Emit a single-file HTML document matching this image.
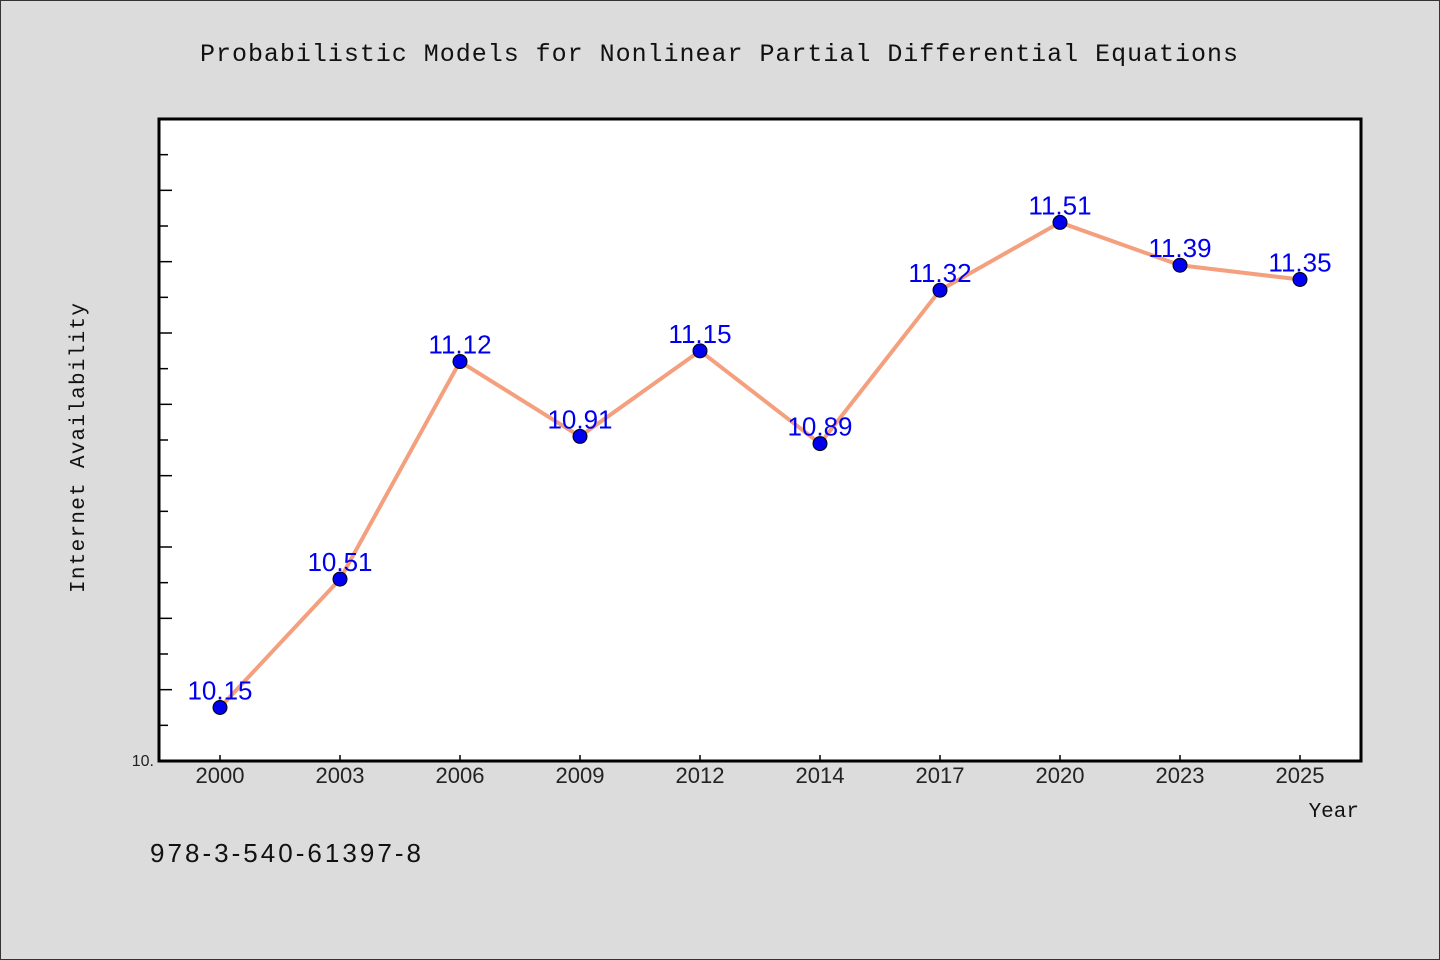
<!DOCTYPE html>
<html><head><meta charset="utf-8"><style>
html,body{margin:0;padding:0;background:#dcdcdc;}
svg{display:block;}
</style></head><body>
<svg width="1440" height="960" xmlns="http://www.w3.org/2000/svg">
<rect x="0.5" y="0.5" width="1439" height="959" fill="#dcdcdc" stroke="#333"/>
<text x="719" y="61" text-anchor="middle" font-family="Liberation Mono, monospace" font-size="25" fill="#111" textLength="1038">Probabilistic Models for Nonlinear Partial Differential Equations</text>
<rect x="159" y="119" width="1202" height="642" fill="#fff" stroke="#000" stroke-width="3"/>
<g id="ticks"></g>
<g id="series"></g>
<text transform="translate(84,448) rotate(-90)" text-anchor="middle" font-family="Liberation Mono, monospace" font-size="21" fill="#111" textLength="290">Internet Availability</text>
<text x="1359" y="817" text-anchor="end" font-family="Liberation Mono, monospace" font-size="21" fill="#111">Year</text>
<text x="150" y="862" font-family="Liberation Sans, sans-serif" font-size="26" fill="#111" textLength="271">978-3-540-61397-8</text>
</svg>
<script>
const categories = ["2000","2003","2006","2009","2012","2014","2017","2020","2023","2025"];
const values = [10.15,10.51,11.12,10.91,11.15,10.89,11.32,11.51,11.39,11.35];
const yMin = 10.0, yMax = 11.8;
const NS = "http://www.w3.org/2000/svg";
const pLeft=159, pRight=1361, pTop=119, pBottom=761;
function x(i){ return 220 + i*(1300-220)/(categories.length-1); }
function y(v){ return pBottom - (v-yMin)/(yMax-yMin)*(pBottom-pTop); }
function mk(tag, attrs, parent){ const e=document.createElementNS(NS,tag); for(const k in attrs) e.setAttribute(k,attrs[k]); parent.appendChild(e); return e; }
const tg=document.getElementById('ticks'), sg=document.getElementById('series');
for(let k=1;k<=17;k++){
  const v=yMin+k*0.1, yy=y(v);
  const t=mk('line',{x1:pLeft,x2:pLeft+(k%2===0?13:9),y1:yy,y2:yy,stroke:'#000','stroke-width':1.5},tg);
  
  
}
const yl=mk('text',{x:154,y:766,'text-anchor':'end','font-family':'Liberation Sans, sans-serif','font-size':16,fill:'#222'},tg);
yl.textContent='10.';


categories.forEach((c,i)=>{
  const t=mk('line',{x1:x(i),x2:x(i),y1:pBottom,y2:pBottom-6,stroke:'#000','stroke-width':1.5},tg);
  
  
  const l=mk('text',{x:x(i),y:783,'text-anchor':'middle','font-family':'Liberation Sans, sans-serif','font-size':22,fill:'#222'},tg);
  l.textContent=c;
  
  
});
const pts=values.map((v,i)=>x(i)+','+y(v)).join(' ');
const line=mk('polyline',{points:pts,fill:'none',stroke:'#f4a07e','stroke-width':4,'stroke-linejoin':'round'},sg);


values.forEach((v,i)=>{
  const c=mk('circle',{cx:x(i),cy:y(v),r:7,fill:'#0000ee',stroke:'#000','stroke-width':1},sg);
  
  
});
values.forEach((v,i)=>{
  const t=mk('text',{x:x(i),y:y(v)-8,'text-anchor':'middle','font-family':'Liberation Sans, sans-serif','font-size':26,fill:'#0000ee'},sg);
  t.textContent=v.toFixed(2);
  
  
});
</script>
</body></html>
